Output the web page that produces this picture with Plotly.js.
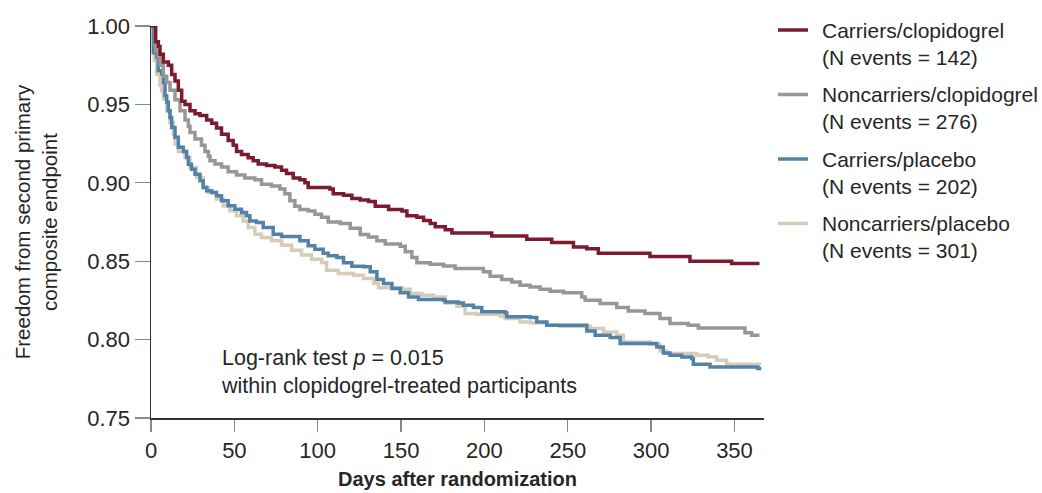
<!DOCTYPE html>
<html>
<head>
<meta charset="utf-8">
<script src="https://cdn.plot.ly/plotly-3.0.1.min.js"></script>
<style>
  html, body { margin: 0; padding: 0; background: #ffffff; }
  #chart { width: 1042px; height: 493px; }
</style>
</head>
<body>
<div id="chart"></div>
<script>
// Series names (legend labels: name line + event count line)
const seriesNames = ["Carriers/clopidogrel", "Noncarriers/clopidogrel", "Carriers/placebo", "Noncarriers/placebo"];
const seriesEvents = [142, 276, 202, 301];
const seriesColors = ['#7b1c2e', '#979797', '#5382a8', '#d6ccb8'];

// Carriers/clopidogrel
const carClopDays = [0, 2.8, 4.4, 5.4, 7.4, 10.4, 12.4, 14.4, 16.4, 18.4, 20.4, 23.4, 26.4, 29.4, 33.4, 36.4, 39.3, 42.3, 46.3, 49.3, 51.3, 54.3, 58.3, 61.3, 64.3, 69.3, 74.3, 78.3, 81.3, 85.3, 89.3, 92.3, 94.3, 107.3, 109.3, 115.5, 120.5, 125.5, 130.5, 134.5, 142.5, 150.5, 153.5, 159.5, 163.5, 167.5, 170.5, 176.5, 180.5, 204.4, 225.4, 240.4, 253.4, 261.4, 268.3, 299.3, 323.3, 348.3, 365];
const carClopSurv = [1.000, 0.990, 0.987, 0.982, 0.977, 0.975, 0.969, 0.965, 0.959, 0.952, 0.950, 0.946, 0.944, 0.943, 0.940, 0.938, 0.935, 0.931, 0.927, 0.924, 0.920, 0.918, 0.916, 0.914, 0.912, 0.911, 0.910, 0.908, 0.906, 0.903, 0.902, 0.900, 0.897, 0.896, 0.893, 0.892, 0.890, 0.889, 0.888, 0.885, 0.883, 0.882, 0.879, 0.878, 0.876, 0.874, 0.872, 0.870, 0.868, 0.866, 0.864, 0.862, 0.859, 0.858, 0.855, 0.853, 0.850, 0.8485, 0.8485];

// Noncarriers/clopidogrel
const nonClopDays = [0, 2.4, 2.8, 4.4, 5.4, 7.4, 9.4, 11.4, 14.4, 17.4, 20.4, 22.4, 23.4, 26.4, 30.3, 32.4, 34.4, 35.4, 38.4, 42.3, 46.3, 51.3, 56.3, 62.3, 66.3, 72.3, 77.3, 80.3, 83.3, 86.3, 89.3, 94.3, 98.3, 102.3, 106.3, 113.5, 119.5, 125.5, 130.5, 135.5, 140.5, 149.5, 152.5, 156.5, 159.5, 167.5, 175.5, 182.4, 199.4, 203.4, 210.4, 216.4, 221.4, 227.4, 233.4, 239.4, 247.4, 258.4, 260.4, 269.4, 279.4, 286.3, 296.3, 305.3, 311.3, 322.3, 328.3, 356.3, 360.3, 365];
const nonClopSurv = [1.000, 0.9885, 0.984, 0.980, 0.975, 0.968, 0.964, 0.959, 0.953, 0.946, 0.940, 0.936, 0.932, 0.928, 0.924, 0.920, 0.917, 0.914, 0.912, 0.910, 0.907, 0.905, 0.903, 0.902, 0.899, 0.898, 0.896, 0.893, 0.8885, 0.885, 0.883, 0.882, 0.880, 0.878, 0.875, 0.874, 0.871, 0.867, 0.8655, 0.863, 0.861, 0.8596, 0.856, 0.8524, 0.849, 0.848, 0.847, 0.8453, 0.8432, 0.8404, 0.8383, 0.8368, 0.8347, 0.8336, 0.8321, 0.8309, 0.8298, 0.8272, 0.8251, 0.823, 0.8205, 0.8183, 0.8166, 0.8134, 0.8102, 0.8092, 0.8074, 0.8043, 0.8028, 0.8028];

// Carriers/placebo
const carPlacDays = [0, 1.4, 3.4, 4.4, 6.4, 7.4, 8.4, 9.4, 10.4, 11.4, 12.4, 14.4, 16.4, 19.4, 21.4, 22.4, 24.3, 26.4, 29.4, 31.3, 33.4, 36.4, 39.3, 42.3, 46.3, 50.3, 54.3, 57.3, 59.3, 63.3, 67.3, 73.3, 78.3, 89.3, 94.3, 98.3, 103.3, 106.3, 111.5, 115.5, 120.5, 127.5, 131.5, 135.5, 139.5, 144.5, 149.5, 154.5, 160.4, 175.5, 176.5, 184.4, 187.4, 193.4, 198.4, 212.4, 213.4, 227.4, 231.4, 237.4, 261.4, 266.4, 275.4, 281.4, 303.4, 307.3, 311.3, 318.3, 324.3, 325.3, 335.3, 364, 365];
const carPlacSurv = [1.000, 0.983, 0.980, 0.9715, 0.9694, 0.964, 0.9555, 0.9513, 0.946, 0.9417, 0.9353, 0.929, 0.9226, 0.920, 0.9162, 0.9119, 0.9087, 0.9055, 0.9013, 0.897, 0.8949, 0.8938, 0.8917, 0.8885, 0.8853, 0.8832, 0.8811, 0.879, 0.8757, 0.8747, 0.8715, 0.8672, 0.8658, 0.863, 0.8598, 0.8577, 0.855, 0.8534, 0.8524, 0.849, 0.8468, 0.8464, 0.8432, 0.8383, 0.8358, 0.8326, 0.8298, 0.8272, 0.8256, 0.8251, 0.824, 0.8234, 0.8219, 0.8205, 0.8177, 0.817, 0.8145, 0.8141, 0.8113, 0.8092, 0.8055, 0.8028, 0.8013, 0.7975, 0.7953, 0.7915, 0.790, 0.7889, 0.7879, 0.7843, 0.7826, 0.7815, 0.7805];

// Noncarriers/placebo
const nonPlacDays = [0, 1.4, 2.0, 3.4, 5.4, 6.4, 7.4, 9.4, 11.4, 13.4, 14.4, 16.4, 20.4, 23.4, 27.3, 31.3, 34.4, 39.3, 43.3, 47.3, 51.3, 55.3, 58.3, 62.3, 66.3, 72.3, 78.3, 84.3, 90.3, 96.3, 102.3, 105.3, 112.3, 121.5, 127.5, 133.5, 136.5, 150.5, 155.5, 162.5, 169.5, 176.5, 183.5, 188.4, 195.4, 209.4, 212.4, 221.4, 227.4, 237.4, 245.4, 263.4, 271.4, 279.4, 283.3, 299.4, 305.3, 309.3, 327.3, 334.3, 339.3, 345.3, 365];
const nonPlacSurv = [1.000, 0.9885, 0.978, 0.969, 0.962, 0.9587, 0.9534, 0.946, 0.9385, 0.931, 0.9247, 0.920, 0.9162, 0.9098, 0.9034, 0.897, 0.8938, 0.8896, 0.8853, 0.8821, 0.879, 0.8757, 0.8715, 0.8672, 0.8651, 0.863, 0.8602, 0.857, 0.854, 0.8513, 0.8492, 0.8443, 0.8422, 0.8411, 0.839, 0.8358, 0.833, 0.8321, 0.8294, 0.8283, 0.8272, 0.8234, 0.8213, 0.8166, 0.8162, 0.8149, 0.8134, 0.8113, 0.8107, 0.8092, 0.8085, 0.807, 0.8049, 0.8028, 0.7985, 0.797, 0.7928, 0.7911, 0.790, 0.7889, 0.7868, 0.7843, 0.7836];

// Axis ticks
const xTickVals = [0, 50, 100, 150, 200, 250, 300, 350];
const yTickVals = [0.75, 0.80, 0.85, 0.90, 0.95, 1.00];
const yTickText = ["0.75", "0.80", "0.85", "0.90", "0.95", "1.00"];

const FONT = '"Liberation Sans Narrow", "Liberation Sans", Arial, sans-serif';
const TXT = '#262626';

// Plot-area geometry (pixels) used to place the hand-built legend in paper units
const W = 1042, H = 493, ML = 151, MR = 278, MT = 26, MB = 75;
const PW = W - ML - MR, PH = H - MT - MB;
const px2x = p => (p - ML) / PW;
const px2y = p => (H - MB - p) / PH;

function trace(x, y, i) {
  return {
    x: x, y: y, name: seriesNames[i], type: 'scatter', mode: 'lines',
    line: { shape: 'hv', color: seriesColors[i], width: 3.5 },
    showlegend: false, hoverinfo: 'skip'
  };
}

const data = [
  trace(nonPlacDays, nonPlacSurv, 3),
  trace(carPlacDays, carPlacSurv, 2),
  trace(nonClopDays, nonClopSurv, 1),
  trace(carClopDays, carClopSurv, 0)
];

// Legend built from shapes + annotations
const legendTop = 30, legendStep = 64.5, lineH = 27.3;
const shapes = [], annotations = [];
seriesNames.forEach((nm, i) => {
  const yc = legendTop + i * legendStep;
  shapes.push({
    type: 'line', xref: 'paper', yref: 'paper',
    x0: px2x(778), x1: px2x(808), y0: px2y(yc), y1: px2y(yc),
    line: { color: seriesColors[i], width: 3.5 }
  });
  annotations.push({
    xref: 'paper', yref: 'paper', x: px2x(820), y: px2y(yc + lineH / 2),
    xanchor: 'left', yanchor: 'middle', align: 'left', showarrow: false,
    text: nm + '<br>(N events = ' + seriesEvents[i] + ')',
    font: { family: FONT, size: 21, color: TXT }
  });
});

annotations.push({
  xref: 'x', yref: 'y', x: 40.9, y: 0.7975, xanchor: 'left', yanchor: 'top',
  text: 'Log-rank test <i>p</i> = 0.015<br>within clopidogrel-treated participants',
  showarrow: false, align: 'left', font: { family: FONT, size: 21.5, color: TXT }
});

const layout = {
  width: W, height: H,
  margin: { l: ML, r: MR, t: MT, b: MB, pad: 0 },
  paper_bgcolor: '#ffffff', plot_bgcolor: '#ffffff',
  font: { family: FONT, size: 21, color: TXT },
  showlegend: false,
  xaxis: {
    range: [0, 367.7], tickvals: xTickVals, ticktext: xTickVals.map(String),
    showgrid: false, zeroline: false, showline: true, linecolor: '#333333', linewidth: 1.5,
    ticks: 'outside', ticklen: 12, tickcolor: '#888888', tickwidth: 1.3,
    tickfont: { family: FONT, size: 22, color: TXT },
    title: { text: '<b>Days after randomization</b>', font: { family: FONT, size: 20, color: TXT }, standoff: 10 }
  },
  yaxis: {
    range: [0.75, 1.0], tickvals: yTickVals, ticktext: yTickText,
    showgrid: false, zeroline: false, showline: true, linecolor: '#333333', linewidth: 1.5,
    ticks: 'outside', ticklen: 15, tickcolor: '#888888', tickwidth: 1.3,
    tickfont: { family: FONT, size: 22, color: TXT },
    title: { text: 'Freedom from second primary<br>composite endpoint', font: { family: FONT, size: 20.5, color: TXT }, standoff: 24 }
  },
  shapes: shapes,
  annotations: annotations
};

Plotly.newPlot('chart', data, layout, { displayModeBar: false, staticPlot: true });
</script>
</body>
</html>
